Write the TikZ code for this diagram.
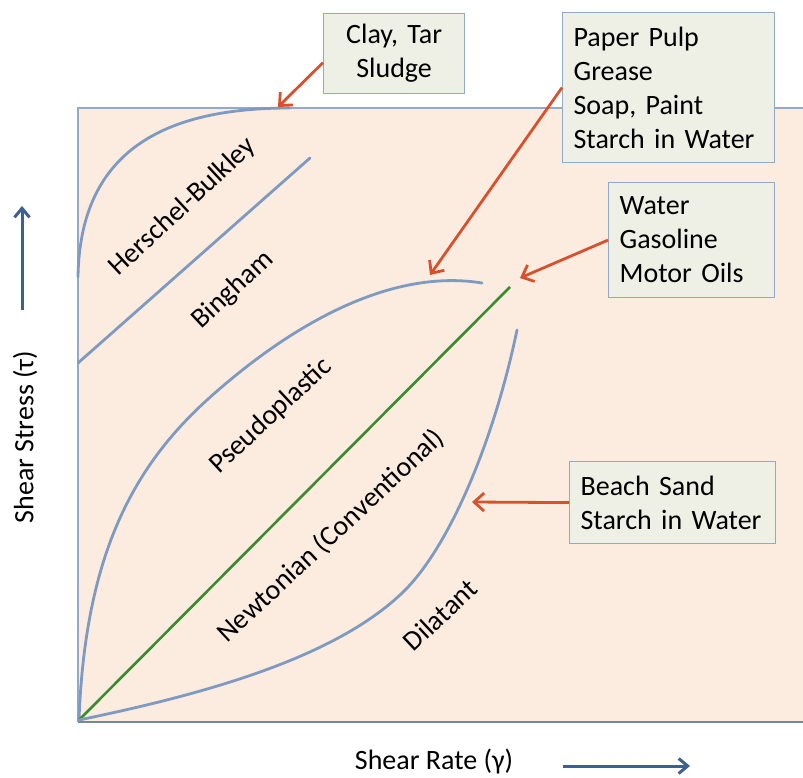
\documentclass[tikz,border=0pt]{standalone}
\usepackage{fontspec}
\setmainfont{Carlito}
\usepackage{xcolor}
\usepackage{tikz}
\usetikzlibrary{arrows.meta}
\definecolor{peach}{HTML}{FCEBDF}
\definecolor{boxfill}{HTML}{EEF0E5}
\definecolor{boxline}{HTML}{92A9C8}
\definecolor{curveblue}{HTML}{7F9AC0}
\definecolor{newtongreen}{HTML}{3C8A30}
\definecolor{calloutred}{HTML}{D6512D}
\definecolor{axisblue}{HTML}{3D6090}

\begin{document}
\begin{tikzpicture}[x=1pt, y=-1pt,
  every node/.style={font=\fontsize{28}{34}\selectfont},
  infobox/.style={draw=boxline, fill=boxfill, line width=1.2pt, anchor=north west, inner xsep=11pt, inner ysep=2pt, align=left},
  flowcurve/.style={draw=curveblue, line width=2.8pt, line cap=round},
  callout/.style={draw=calloutred, line width=2.8pt, -{Straight Barb[length=10pt,width=18pt]}},
  axisarrow/.style={draw=axisblue, line width=3pt, -{Straight Barb[length=9pt,width=15pt]}},
  curvelabel/.style={rotate=43}]
\useasboundingbox (0,0) rectangle (803,778);
\fill[peach] (78,108) rectangle (803,722);
\draw[boxline, line width=1.4pt] (803,108) -- (78,108) -- (78,722);
\draw[boxline!80!black, line width=2pt] (78,722) -- (803,722);

\coordinate (origin) at (79,720);
\draw[flowcurve] (78,277) .. controls (80,150) and (165,108) .. (290,108);
\draw[flowcurve] (78,363) -- (310,158);
\draw[flowcurve] (origin) .. controls (85,560) and (130,470) .. (207,400)
  .. controls (290,325) and (390,268) .. (482,283);
\draw[newtongreen, line width=2.6pt] (origin) -- (510,287);
\draw[flowcurve] (origin) .. controls (200,695) and (330,660) .. (400,595)
  .. controls (447,552) and (493,445) .. (517,330);

\node[curvelabel] (hb) at (183,207) {Herschel-Bulkley};
\node[curvelabel] (bingham) at (233,290) {Bingham};
\node[curvelabel] (pseudo) at (271,416) {Pseudoplastic};
\node[curvelabel] (newton) at (331,536) {Newtonian (Conventional)};
\node[curvelabel] (dilat) at (440,615) {Dilatant};

\node[infobox, align=center, text width=119pt, minimum height=80pt] (clay) at (323,13) {Clay, Tar\\Sludge};
\node[infobox, text width=190pt, minimum height=150pt] (pulp) at (562,12) {Paper Pulp\\Grease\\Soap, Paint\\Starch in Water};
\node[infobox, text width=144pt, minimum height=115pt] (water) at (608,182) {Water\\Gasoline\\Motor Oils};
\node[infobox, text width=184pt, minimum height=82pt] (sand) at (569,461) {Beach Sand\\Starch in Water};

\coordinate (claytip) at (278,107);
\coordinate (pulptip) at (430,275);
\coordinate (watertip) at (520,278);
\coordinate (sandtip) at (472,502);
\draw[callout] ([yshift=-9pt]clay.west) -- (claytip);
\draw[callout] (pulp.west) -- (pulptip);
\draw[callout] (water.west) -- (watertip);
\draw[callout] (sand.west) -- (sandtip);

\node (xlabel) at (434,762) {Shear Rate (γ)};
\node[rotate=90] (ylabel) at (25,437) {Shear Stress (τ)};
\coordinate (xtail) at (563,766);
\coordinate (xtip) at (690,766);
\coordinate (ytail) at (22,310);
\coordinate (ytip) at (22,206);
\draw[axisarrow] (xtail) -- (xtip);
\draw[axisarrow] (ytail) -- (ytip);
\end{tikzpicture}
\end{document}
